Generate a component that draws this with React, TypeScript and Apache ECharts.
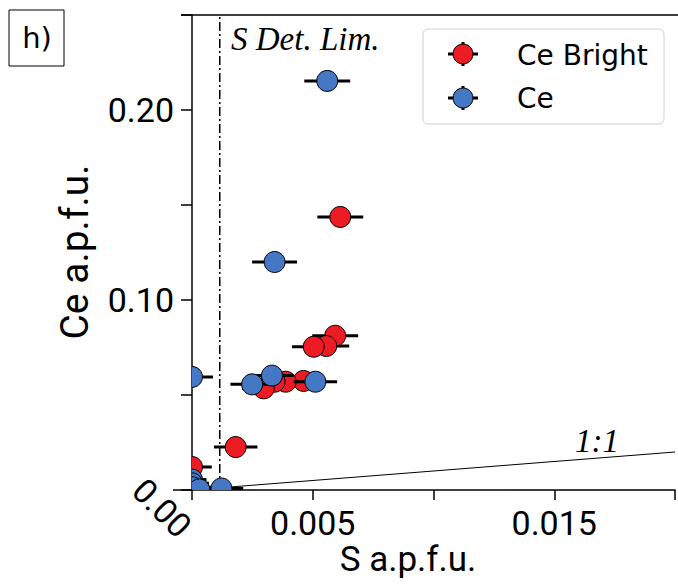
import React, { useEffect, useRef } from "react";
import * as echarts from "echarts";

// Ce Bright (red)
const brightS = [0.00614, 0.00593, 0.00556, 0.00504, 0.00462, 0.00388, 0.00342, 0.00297, 0.00181, 0.0];
const brightCe = [0.1437, 0.0812, 0.0758, 0.0754, 0.0574, 0.057, 0.057, 0.0535, 0.0226, 0.0121];
const brightErr = [0.00095, 0.00095, 0.00095, 0.0009, 0.0009, 0.0009, 0.0009, 0.0009, 0.0009, 0.00082];

// Ce (blue)
const ceS = [0.0056, 0.00342, 0.0, 0.00331, 0.00249, 0.00511, 0.00122, 0.0, 0.0, 0.0, 0.0003];
const ceCe = [0.2153, 0.12, 0.0595, 0.0602, 0.0556, 0.057, 0.0008, 0.0055, 0.0035, 0.0015, 0.0003];
const ceErr = [0.00095, 0.00093, 0.00087, 0.0009, 0.0009, 0.0009, 0.0009, 0.0006, 0.0007, 0.0008, 0.0007];

const detLimit = 0.00115;
const oneToOne = [[0, 0], [0.02, 0.02]];
const xTicksShown = [0.005, 0.015];
const yTicksShown = [0.1, 0.2];

const RED = "#ED1C24";
const BLUE = "#4477C4";
const TICK_FONT = "Roboto, 'Open Sans', sans-serif";
const SERIF = "'Liberation Serif', 'DejaVu Serif', serif";

function errBars(xs: number[], ys: number[], es: number[]) {
  return {
    type: "custom",
    clip: true,
    z: 2,
    data: xs.map((x, i) => [x, ys[i], es[i]]),
    renderItem: (_p: any, api: any) => {
      const x = api.value(0), y = api.value(1), e = api.value(2);
      const a = api.coord([x - e, y]);
      const b = api.coord([x + e, y]);
      return {
        type: "line",
        shape: { x1: a[0], y1: a[1], x2: b[0], y2: b[1] },
        style: { stroke: "#000", lineWidth: 3 },
      };
    },
  };
}

function markers(name: string, xs: number[], ys: number[], color: string) {
  return {
    type: "custom",
    name,
    z: 2,
    clip: true,
    data: xs.map((x, i) => [x, ys[i]]),
    renderItem: (_p: any, api: any) => {
      const c = api.coord([api.value(0), api.value(1)]);
      return {
        type: "circle",
        shape: { cx: c[0], cy: c[1], r: 10.5 },
        style: { fill: color, stroke: "#000", lineWidth: 1 },
      };
    },
  };
}

function legendMarker(cx: number, cy: number, color: string) {
  return [
    { type: "line", shape: { x1: cx - 15, y1: cy, x2: cx + 15, y2: cy }, style: { stroke: "#000", lineWidth: 3 } },
    { type: "line", shape: { x1: cx, y1: cy - 12, x2: cx, y2: cy + 12 }, style: { stroke: "#000", lineWidth: 3 } },
    { type: "circle", shape: { cx, cy, r: 10 }, style: { fill: color, stroke: "#000", lineWidth: 1 } },
  ];
}

export default function App() {
  const ref = useRef<HTMLDivElement>(null);
  useEffect(() => {
    const chart = echarts.init(ref.current!, null, { renderer: "svg" });
    const near = (v: number, list: number[]) => list.some((t) => Math.abs(v - t) < 1e-9);
    chart.setOption({
      animation: false,
      grid: { left: 192, top: 15, right: 0, bottom: 96, containLabel: false },
      xAxis: {
        type: "value",
        min: 0,
        max: 0.02,
        interval: 0.005,
        axisLine: { lineStyle: { color: "#000", width: 1.5 } },
        axisTick: { length: 10, lineStyle: { color: "#000", width: 1.5 } },
        splitLine: { show: false },
        axisLabel: {
          formatter: (v: number) => (near(v, xTicksShown) ? v.toFixed(3) : ""),
          fontSize: 34,
          fontFamily: TICK_FONT,
          color: "#000",
          margin: 16,
        },
      },
      yAxis: {
        type: "value",
        min: 0,
        max: 0.25,
        interval: 0.05,
        axisLine: { lineStyle: { color: "#000", width: 1.5 } },
        axisTick: { length: 11, lineStyle: { color: "#000", width: 1.5 } },
        splitLine: { show: false },
        axisLabel: {
          formatter: (v: number) => (near(v, yTicksShown) ? v.toFixed(2) : ""),
          fontSize: 34,
          fontFamily: TICK_FONT,
          color: "#000",
          margin: 18,
        },
      },
      series: [
        {
          type: "line",
          z: 1,
          symbol: "none",
          data: oneToOne,
          lineStyle: { color: "#000", width: 1 },
        },
        {
          type: "line",
          z: 1,
          symbol: "none",
          data: [[detLimit, 0], [detLimit, 0.25]],
          lineStyle: { color: "#000", width: 1.5, type: [9, 3, 2, 3] },
        },
        errBars(brightS, brightCe, brightErr),
        markers("Ce Bright", brightS, brightCe, RED),
        errBars(ceS, ceCe, ceErr),
        markers("Ce", ceS, ceCe, BLUE),
      ],
      graphic: [
        { type: "line", shape: { x1: 181, y1: 15, x2: 678, y2: 15 }, style: { stroke: "#000", lineWidth: 1.5 } },
        { type: "line", shape: { x1: 173, y1: 490, x2: 192, y2: 490 }, style: { stroke: "#000", lineWidth: 1.5 } },
        { type: "rect", shape: { x: 9, y: 10, width: 55, height: 56 }, style: { fill: "#fff", stroke: "#000", lineWidth: 1 } },
        { type: "text", x: 37, y: 38, style: { text: "h)", fontSize: 29, fontFamily: "'DejaVu Sans', sans-serif", fill: "#000", align: "center", verticalAlign: "middle" } },
        { type: "text", x: 162, y: 508, rotation: -Math.PI / 4, style: { text: "0.00", fontSize: 34, fontFamily: TICK_FONT, fill: "#000", align: "center", verticalAlign: "middle" } },
        { type: "text", x: 75, y: 252, rotation: Math.PI / 2, style: { text: "Ce a.p.f.u.", fontSize: 39, fontFamily: TICK_FONT, fill: "#000", align: "center", verticalAlign: "middle" } },
        { type: "text", x: 408, y: 559, style: { text: "S a.p.f.u.", fontSize: 35, fontFamily: TICK_FONT, fill: "#000", align: "center", verticalAlign: "middle" } },
        { type: "text", x: 231, y: 39, style: { text: "S Det. Lim.", fontSize: 33, fontStyle: "italic", fontFamily: SERIF, fill: "#000", align: "left", verticalAlign: "middle" } },
        { type: "text", x: 597, y: 441, style: { text: "1:1", fontSize: 33, fontStyle: "italic", fontFamily: SERIF, fill: "#000", align: "center", verticalAlign: "middle" } },
        { type: "rect", shape: { x: 423, y: 29, width: 241, height: 95, r: 5 }, style: { fill: "rgba(255,255,255,0.9)", stroke: "#d0d0d0", lineWidth: 1 }, z: 10 },
        ...legendMarker(463, 54, RED).map((g) => ({ ...g, z: 11 })),
        ...legendMarker(463, 98, BLUE).map((g) => ({ ...g, z: 11 })),
        { type: "text", x: 517, y: 55, z: 11, style: { text: "Ce Bright", fontSize: 28, fontFamily: "'DejaVu Sans', sans-serif", fill: "#000", align: "left", verticalAlign: "middle" } },
        { type: "text", x: 517, y: 98, z: 11, style: { text: "Ce", fontSize: 28, fontFamily: "'DejaVu Sans', sans-serif", fill: "#000", align: "left", verticalAlign: "middle" } },
      ],
    });
    return () => chart.dispose();
  }, []);
  return <div ref={ref} style={{ width: 678, height: 586, position: "absolute", left: 0, top: 0 }} />;
}
